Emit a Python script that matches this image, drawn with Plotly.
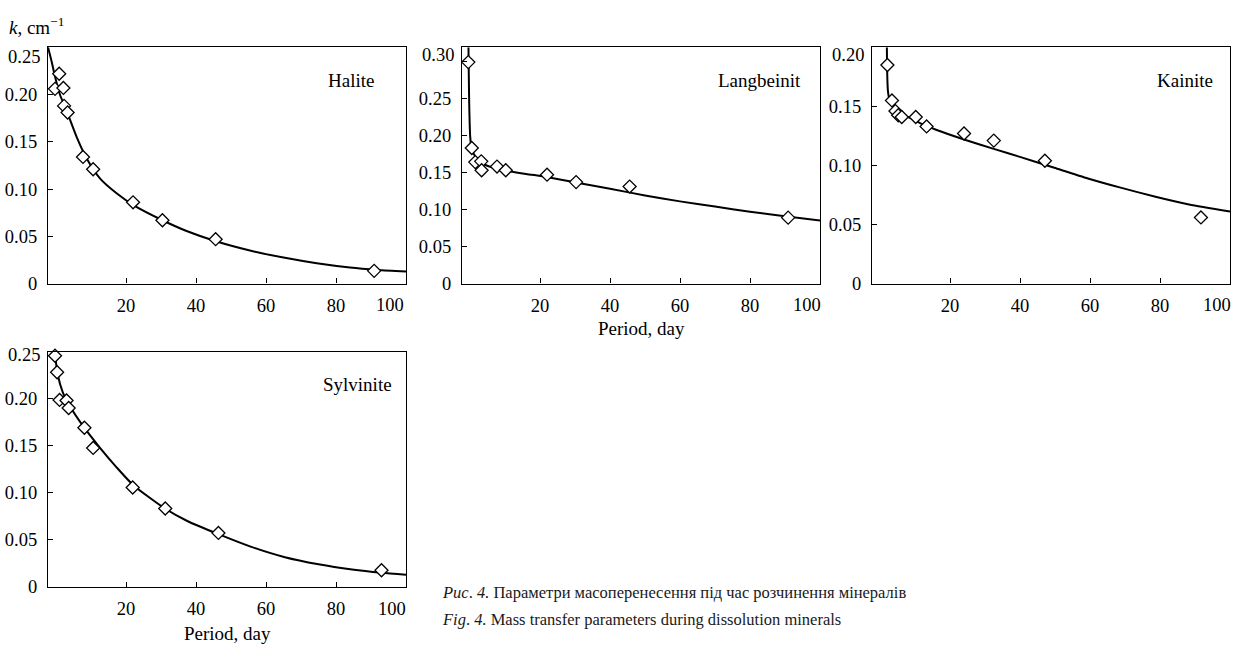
import plotly.graph_objects as go

W, H = 1236, 654
FONT = "Liberation Serif, Times New Roman, Times, DejaVu Serif, serif"

# ---------------- data ----------------
# Halite
halite_x = [-0.3, 0.9, 2.1, 2.3, 3.3, 7.7, 10.6, 22.0, 30.4, 45.6, 90.9]
halite_y = [0.206, 0.222, 0.207, 0.188, 0.181, 0.134, 0.121, 0.086, 0.067, 0.047, 0.0135]
halite_fit_x = [-2.3, -1.2, -0.3, 1.1, 3.0, 5.9, 8.8, 12.6, 17.3, 22.1, 30.4, 37.3, 45.9, 55.4, 65.0, 74.5, 84.0, 92.0, 100.0]
halite_fit_y = [0.250, 0.234, 0.219, 0.200, 0.183, 0.155, 0.132, 0.111, 0.0955, 0.083, 0.067, 0.0556, 0.0445, 0.035, 0.0275, 0.0215, 0.017, 0.0145, 0.0128]

# Langbeinit
langb_x = [-0.5, 0.5, 1.5, 3.2, 3.3, 7.7, 10.2, 22.0, 30.3, 45.6, 90.9]
langb_y = [0.299, 0.183, 0.164, 0.165, 0.153, 0.158, 0.153, 0.147, 0.137, 0.131, 0.089]
langb_fit_x = [-0.45, -0.35, -0.25, -0.1, 0.05, 0.25, 0.6, 1.2, 2.0, 3.3, 5.5, 8.0, 11.0, 16.0, 22.0, 30.6, 40.0, 50.0, 60.0, 70.0, 80.0, 90.0, 100.0]
langb_fit_y = [0.319, 0.28, 0.245, 0.215, 0.198, 0.188, 0.180, 0.174, 0.169, 0.163, 0.158, 0.155, 0.152, 0.148, 0.144, 0.136, 0.128, 0.119, 0.111, 0.104, 0.097, 0.091, 0.085]

# Kainite
kain_x = [2.1, 3.4, 4.4, 5.2, 6.2, 10.2, 13.3, 24.0, 32.5, 47.1, 91.7]
kain_y = [0.185, 0.155, 0.146, 0.1425, 0.141, 0.141, 0.133, 0.127, 0.121, 0.104, 0.056]
kain_fit_x = [1.95, 2.0, 2.1, 2.25, 2.5, 2.9, 3.6, 4.6, 6.0, 7.5, 9.5, 11.3, 16.2, 24.0, 32.5, 40.2, 49.8, 59.4, 69.0, 78.7, 88.3, 100.0]
kain_fit_y = [0.200, 0.185, 0.172, 0.163, 0.158, 0.154, 0.150, 0.147, 0.144, 0.1415, 0.139, 0.136, 0.130, 0.122, 0.114, 0.107, 0.098, 0.089, 0.081, 0.0735, 0.067, 0.061]

# Sylvinite
sylv_x = [-0.3, 0.3, 1.0, 3.0, 3.6, 8.1, 10.6, 21.9, 31.2, 46.4, 93.0]
sylv_y = [0.2455, 0.228, 0.1986, 0.198, 0.190, 0.169, 0.1476, 0.1056, 0.0833, 0.0573, 0.0177]
sylv_fit_x = [-0.4, 0.5, 1.9, 3.8, 7.7, 12.5, 17.3, 22.1, 31.2, 37.5, 46.4, 55.8, 65.4, 75.0, 84.6, 93.0, 100.0]
sylv_fit_y = [0.250, 0.225, 0.207, 0.193, 0.171, 0.148, 0.127, 0.108, 0.083, 0.070, 0.056, 0.0425, 0.0315, 0.024, 0.0185, 0.015, 0.0128]

panel_names = ["Halite", "Langbeinit", "Kainite", "Sylvinite"]
x_ticks = [20, 40, 60, 80, 100]
y_ticks_025 = [0, 0.05, 0.10, 0.15, 0.20, 0.25]
y_ticks_030 = [0, 0.05, 0.10, 0.15, 0.20, 0.25, 0.30]
y_ticks_020 = [0, 0.05, 0.10, 0.15, 0.20]
x_title = "Period, day"
y_title = "<i>k</i>, cm<sup>−1</sup>"
caption_ua = "<i>Рис</i>. <i>4.</i> Параметри масоперенесення під час розчинення мінералів"
caption_en = "<i>Fig</i>. <i>4.</i> Mass transfer parameters during dissolution minerals"

# ---------------- layout geometry (pixels) ----------------
panels = [
    dict(px=(48, 406), py=(48, 288), yr=[0, 0.25], yt=y_ticks_025, lab=(376, 82), top_lab_y=58, x100=390),
    dict(px=(462, 820), py=(48, 288), yr=[0, 0.319], yt=y_ticks_030, lab=(803, 82), top_lab_y=56, x100=807),
    dict(px=(872, 1230), py=(48, 288), yr=[0, 0.20], yt=y_ticks_020, lab=(1215, 82), top_lab_y=56, x100=1217),
    dict(px=(48, 406), py=(357, 596), yr=[0, 0.25], yt=y_ticks_025, lab=(394, 390), top_lab_y=361, x100=392),
]
series = [
    (halite_x, halite_y, halite_fit_x, halite_fit_y),
    (langb_x, langb_y, langb_fit_x, langb_fit_y),
    (kain_x, kain_y, kain_fit_x, kain_fit_y),
    (sylv_x, sylv_y, sylv_fit_x, sylv_fit_y),
]

def ylab(v):
    return "0" if v == 0 else f"{v:.2f}"

fig = go.Figure()
TS = 18.5
tickfont = dict(family=FONT, size=TS, color="black")
annotations = []
for i, (p, s, name) in enumerate(zip(panels, series, panel_names)):
    n = "" if i == 0 else str(i + 1)
    xa, ya = "x" + n, "y" + n
    px, py = p["px"], p["py"]
    fig.add_trace(go.Scatter(x=s[2], y=s[3], mode="lines", xaxis=xa, yaxis=ya,
                             line=dict(color="black", width=2, shape="spline", smoothing=0.6),
                             showlegend=False, hoverinfo="skip"))
    fig.add_trace(go.Scatter(x=s[0], y=s[1], mode="markers", xaxis=xa, yaxis=ya,
                             marker=dict(symbol="diamond", size=10, color="white",
                                         line=dict(color="black", width=1.3)),
                             showlegend=False, cliponaxis=False))
    xt_text = [str(v) if v != 100 else "" for v in x_ticks]
    yt = p["yt"]
    yt_text = [ylab(v) if v != yt[-1] else "" for v in yt]
    fig.update_layout(**{
        "xaxis" + n: dict(domain=[px[0] / W, px[1] / W], range=[-2.3, 100], anchor=ya,
                          showline=True, mirror=True, linecolor="black", linewidth=1.3,
                          showgrid=False, zeroline=False, ticks="inside", ticklen=5,
                          tickcolor="black", tickwidth=1.2, tickvals=x_ticks,
                          ticktext=xt_text, tickfont=tickfont, ticklabelstandoff=5),
        "yaxis" + n: dict(domain=[1 - py[1] / H, 1 - py[0] / H], range=p["yr"], anchor=xa,
                          showline=True, mirror=True, linecolor="black", linewidth=1.3,
                          showgrid=False, zeroline=False, ticks="inside", ticklen=5,
                          tickcolor="black", tickwidth=1.2, tickvals=yt,
                          ticktext=yt_text, tickfont=tickfont, ticklabelstandoff=6),
    })
    annotations.append(dict(text=name, x=p["lab"][0] / W, y=1 - p["lab"][1] / H,
                            xref="paper", yref="paper", xanchor="right", yanchor="middle",
                            showarrow=False, font=dict(family=FONT, size=19, color="black")))
    annotations.append(dict(text=ylab(yt[-1]), x=(px[0] - 6) / W, y=1 - p["top_lab_y"] / H,
                            xref="paper", yref="paper", xanchor="right", yanchor="middle",
                            showarrow=False, font=tickfont))
    annotations.append(dict(text=str(x_ticks[-1]), x=p["x100"] / W, y=1 - (py[1] + 22) / H,
                            xref="paper", yref="paper", xanchor="center", yanchor="middle",
                            showarrow=False, font=tickfont))

annotations += [
    dict(text=y_title, x=7 / W, y=1 - 26 / H, xref="paper", yref="paper", xanchor="left",
         yanchor="middle", showarrow=False, font=dict(family=FONT, size=19, color="black")),
    dict(text=x_title, x=641 / W, y=1 - 334 / H, xref="paper", yref="paper", xanchor="center",
         yanchor="middle", showarrow=False, font=dict(family=FONT, size=19, color="black")),
    dict(text=x_title, x=227 / W, y=1 - 643 / H, xref="paper", yref="paper", xanchor="center",
         yanchor="middle", showarrow=False, font=dict(family=FONT, size=19, color="black")),
    dict(text=caption_ua, x=440 / W, y=1 - 602 / H, xref="paper", yref="paper", xanchor="left",
         yanchor="middle", showarrow=False, font=dict(family=FONT, size=16.5, color="#1a1a1a")),
    dict(text=caption_en, x=440 / W, y=1 - 629 / H, xref="paper", yref="paper", xanchor="left",
         yanchor="middle", showarrow=False, font=dict(family=FONT, size=16.5, color="#1a1a1a")),
]

fig.update_layout(width=W, height=H, margin=dict(l=0, r=0, t=0, b=0),
                  paper_bgcolor="white", plot_bgcolor="white",
                  annotations=annotations, showlegend=False)
fig.write_html("out.html", config={"displayModeBar": False},
               post_script="document.body.style.margin='0';document.body.style.overflow='hidden';")
